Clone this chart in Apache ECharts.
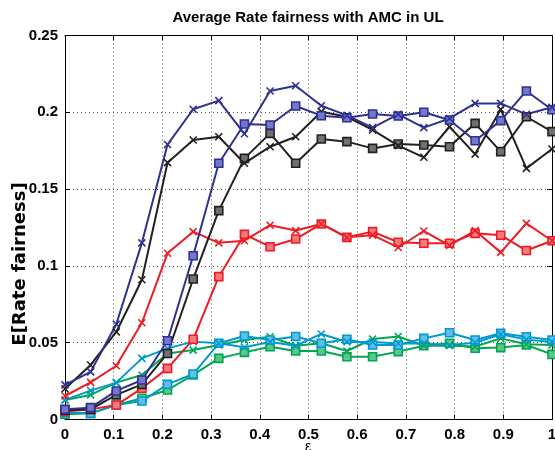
<!DOCTYPE html>
<html>
<head>
<meta charset="utf-8">
<script src="https://cdn.jsdelivr.net/npm/echarts@6/dist/echarts.min.js"></script>
<style>html,body{margin:0;padding:0;background:#fff;}#c{width:555px;height:450px;}</style>
</head>
<body>
<div id="c"></div>
<script>
const xValues = [0, 0.0526, 0.1053, 0.1579, 0.2105, 0.2632, 0.3158, 0.3684, 0.4211, 0.4737, 0.5263, 0.5789, 0.6316, 0.6842, 0.7368, 0.7895, 0.8421, 0.8947, 0.9474, 1];
const blueX   = [0.0225, 0.031, 0.062, 0.115, 0.179, 0.202, 0.2076, 0.186, 0.2139, 0.2173, 0.2043, 0.198, 0.190, 0.1987, 0.190, 0.196, 0.2058, 0.2058, 0.1987, 0.2033];
const blueSq  = [0.0066, 0.0077, 0.0186, 0.0257, 0.0513, 0.1066, 0.1668, 0.1924, 0.1917, 0.2041, 0.1978, 0.1965, 0.1989, 0.1976, 0.200, 0.195, 0.1815, 0.1946, 0.2139, 0.2017];
const blackX  = [0.020, 0.0355, 0.057, 0.091, 0.1672, 0.182, 0.1841, 0.1668, 0.1776, 0.1841, 0.2004, 0.1971, 0.1885, 0.1783, 0.1707, 0.1906, 0.1728, 0.2019, 0.1635, 0.1761];
const blackSq = [0.006, 0.0066, 0.016, 0.0229, 0.043, 0.0915, 0.136, 0.170, 0.1863, 0.1668, 0.1826, 0.1809, 0.1765, 0.1794, 0.1787, 0.1776, 0.1928, 0.1744, 0.1971, 0.1874];
const redX    = [0.0153, 0.0242, 0.035, 0.063, 0.1082, 0.1223, 0.115, 0.1164, 0.1265, 0.123, 0.1273, 0.1186, 0.120, 0.112, 0.1227, 0.1133, 0.123, 0.1088, 0.1277, 0.1164];
const redSq   = [0.0052, 0.0066, 0.0094, 0.0203, 0.0333, 0.0522, 0.093, 0.1205, 0.1125, 0.1175, 0.1273, 0.1186, 0.1223, 0.1154, 0.1147, 0.1147, 0.1212, 0.120, 0.110, 0.1164];
const cyanX   = [0.0127, 0.0188, 0.024, 0.0398, 0.0463, 0.0507, 0.0496, 0.047, 0.0505, 0.048, 0.0557, 0.0505, 0.0505, 0.0495, 0.0495, 0.0485, 0.050, 0.0555, 0.052, 0.0505];
const cyanSq  = [0.0045, 0.004, 0.0094, 0.012, 0.0229, 0.0296, 0.0496, 0.0544, 0.0518, 0.054, 0.0496, 0.0522, 0.0485, 0.0485, 0.0528, 0.0565, 0.0518, 0.0561, 0.0539, 0.0518];
const greenX  = [0.0127, 0.016, 0.024, 0.029, 0.043, 0.0452, 0.0485, 0.0518, 0.0539, 0.048, 0.0496, 0.0446, 0.0524, 0.054, 0.048, 0.048, 0.0475, 0.0528, 0.049, 0.0485];
const greenSq = [0.0034, 0.004, 0.0094, 0.0138, 0.0192, 0.029, 0.0398, 0.0437, 0.0474, 0.0446, 0.0446, 0.0409, 0.0409, 0.0442, 0.048, 0.0496, 0.0464, 0.0468, 0.0485, 0.0424];

const titleText = 'Average Rate fairness with AMC in UL';
const yLabel = 'E[Rate fairness]';
const xLabel = 'ε';

const FONT = '"Liberation Sans", Arial, sans-serif';
const XSYM = 'path://M0,0L10,10M10,0L0,10';

function pair(vals) { return vals.map((v, i) => [xValues[i], v]); }

function mkSeries(vals, color, fill, kind) {
  const isX = kind === 'x';
  return {
    type: 'line',
    data: pair(vals),
    symbol: isX ? XSYM : 'rect',
    symbolSize: isX ? 7 : 8,
    showAllSymbol: true,
    animation: false,
    lineStyle: { color: color, width: 2 },
    itemStyle: isX
      ? { color: 'none', borderColor: color, borderWidth: 1.6 }
      : { color: fill, borderColor: color, borderWidth: 1.6 },
    emphasis: { disabled: true },
    z: 3
  };
}

const chart = echarts.init(document.getElementById('c'), null, { renderer: 'canvas' });

const axisBase = {
  axisLine: { show: true, onZero: false, lineStyle: { color: '#000', width: 1 } },
  axisTick: { show: true, inside: true, length: 5, lineStyle: { color: '#000', width: 1 } }
};

chart.setOption({
  backgroundColor: '#fff',
  animation: false,
  title: {
    text: titleText,
    left: 308,
    top: 10,
    textAlign: 'center',
    padding: 0,
    textStyle: { fontFamily: FONT, fontWeight: 'bold', fontSize: 15, color: '#000' }
  },
  grid: { left: 65, right: 3, top: 35.5, bottom: 30.5, show: false, outerBoundsMode: 'none', containLabel: false },
  xAxis: [
    Object.assign({}, axisBase, {
      type: 'value', min: 0, max: 1, interval: 0.1, position: 'bottom',
      axisLabel: { color: '#000', fontFamily: FONT, fontWeight: 'bold', fontSize: 15, margin: 8, showMinLabel: true, showMaxLabel: true },
      splitLine: { show: true, lineStyle: { type: [1, 3], color: '#555', width: 1 } }
    }),
    Object.assign({}, axisBase, {
      type: 'value', min: 0, max: 1, interval: 0.1, position: 'top',
      axisLabel: { show: false }, splitLine: { show: false }
    })
  ],
  yAxis: [
    Object.assign({}, axisBase, {
      type: 'value', min: 0, max: 0.25, interval: 0.05, position: 'left',
      axisLabel: { color: '#000', fontFamily: FONT, fontWeight: 'bold', fontSize: 15, margin: 7 },
      splitLine: { show: true, lineStyle: { type: [1, 3], color: '#555', width: 1 } }
    }),
    Object.assign({}, axisBase, {
      type: 'value', min: 0, max: 0.25, interval: 0.05, position: 'right',
      axisLabel: { show: false }, splitLine: { show: false }
    })
  ],
  graphic: [{
    type: 'text',
    x: 20, y: 264,
    rotation: Math.PI / 2,
    style: {
      text: yLabel,
      fontFamily: '"DejaVu Sans", sans-serif', fontWeight: 'bold', fontSize: 18, fill: '#000',
      textAlign: 'center', textVerticalAlign: 'middle'
    }
  }, {
    type: 'text',
    x: 308, y: 447,
    style: {
      text: xLabel,
      fontFamily: FONT, fontSize: 14, fill: '#000',
      textAlign: 'center', textVerticalAlign: 'middle'
    }
  }],
  series: [
    mkSeries(greenSq, '#00a651', '#5cc58a', 'sq'),
    mkSeries(greenX, '#00a651', '#5cc58a', 'x'),
    mkSeries(cyanSq, '#0099d0', '#5fc0e4', 'sq'),
    mkSeries(cyanX, '#0099d0', '#5fc0e4', 'x'),
    mkSeries(redSq, '#ed1c24', '#f47a7f', 'sq'),
    mkSeries(redX, '#ed1c24', '#f47a7f', 'x'),
    mkSeries(blackSq, '#231f20', '#707070', 'sq'),
    mkSeries(blackX, '#231f20', '#707070', 'x'),
    mkSeries(blueSq, '#2e3192', '#7478c8', 'sq'),
    mkSeries(blueX, '#2e3192', '#7478c8', 'x')
  ]
});
</script>
</body>
</html>
